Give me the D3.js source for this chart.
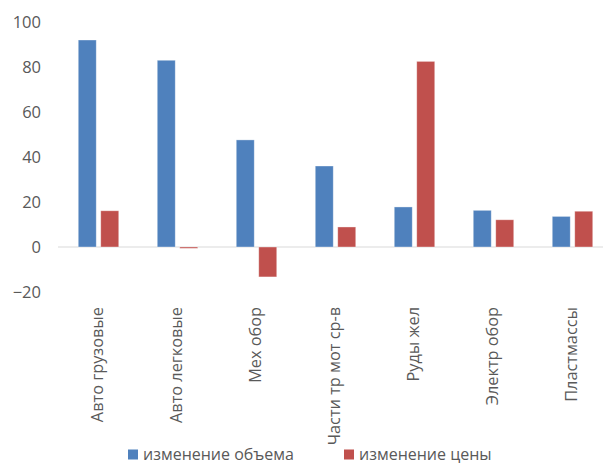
<!DOCTYPE html>
<html>
<head>
<meta charset="utf-8">
<script src="https://cdn.jsdelivr.net/npm/d3@7"></script>
<style>
  html, body { margin: 0; padding: 0; background: #fff; }
  svg { display: block; font-family: "Open Sans", "Noto Sans", sans-serif; }
</style>
</head>
<body>
<svg id="chart" width="603" height="464"></svg>
<script>
// Categories and the two series
const categories = ["Авто грузовые", "Авто легковые", "Мех обор", "Части тр мот ср-в", "Руды жел", "Электр обор", "Пластмассы"];
const volumeChange = [92, 83, 47.6, 36, 17.8, 16.3, 13.6];
const priceChange = [16.1, -0.6, -13.3, 8.9, 82.5, 12.1, 15.9];
const seriesNames = ["изменение объема", "изменение цены"];
const yTicks = [-20, 0, 20, 40, 60, 80, 100];

const colors = ["#4F81BD", "#C0504D"];
const textColor = "#595959";

const svg = d3.select("#chart");

const plotLeft = 59, bandStep = 79;
const x = d3.scaleBand()
  .domain(categories)
  .range([plotLeft, plotLeft + bandStep * categories.length])
  .paddingInner(0).paddingOuter(0);

const y = d3.scaleLinear().domain([-20, 100]).range([292, 22]);

const barW = 18, barGap = 4.5;
const xSeries = d3.scaleOrdinal().domain([0, 1])
  .range([-(barW + barGap / 2), barGap / 2]);

// Y axis labels (no axis line)
const yAxis = d3.axisLeft(y).tickValues(yTicks).tickSize(0).tickPadding(0);
const yg = svg.append("g").attr("transform", "translate(41,0)").call(yAxis);
yg.select(".domain").remove();
yg.selectAll("text")
  .attr("font-size", 16.5)
  .attr("fill", textColor)
  .attr("font-family", "Open Sans, sans-serif")
  .attr("text-anchor", "end");

// Zero baseline
svg.append("line")
  .attr("x1", plotLeft - 1).attr("x2", 603)
  .attr("y1", y(0)).attr("y2", y(0))
  .attr("stroke", "#D9D9D9").attr("stroke-width", 1.2);

// Bars
const seriesData = [volumeChange, priceChange];
seriesData.forEach((vals, si) => {
  svg.append("g").selectAll("rect")
    .data(vals.map((v, i) => ({ cat: categories[i], v })))
    .join("rect")
    .attr("x", d => x(d.cat) + x.bandwidth() / 2 + xSeries(si))
    .attr("width", barW)
    .attr("y", d => y(Math.max(0, d.v)))
    .attr("height", d => Math.abs(y(d.v) - y(0)))
    .attr("fill", colors[si])
    .attr("stroke", "#fff").attr("stroke-opacity", 0.45).attr("stroke-width", 0.8);
});

// Category labels, rotated
const xg = svg.append("g");
xg.selectAll("text")
  .data(categories)
  .join("text")
  .attr("transform", d => `translate(${x(d) + x.bandwidth() / 2 - 1},307) rotate(-90)`)
  .attr("dy", "0.35em")
  .attr("text-anchor", "end")
  .attr("font-size", 16.3)
  .attr("fill", textColor)
  .text(d => d);

// Legend
const legendItems = [
  { name: seriesNames[0], color: colors[0], x: 128 },
  { name: seriesNames[1], color: colors[1], x: 344 }
];
const lg = svg.append("g");
legendItems.forEach(it => {
  lg.append("rect").attr("x", it.x).attr("y", 449.5).attr("width", 10).attr("height", 10).attr("fill", it.color);
  lg.append("text").attr("x", it.x + 15).attr("y", 459.5)
    .attr("font-size", 16).attr("fill", textColor).text(it.name);
});
</script>
</body>
</html>
